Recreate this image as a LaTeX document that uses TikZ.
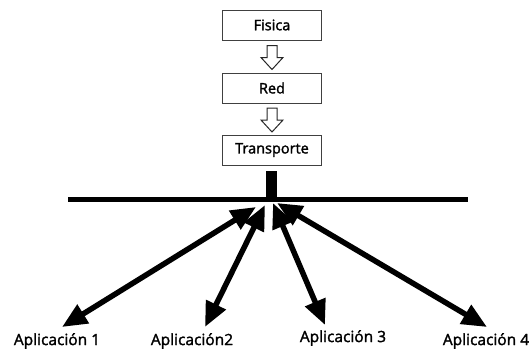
\documentclass[tikz,border=0pt]{standalone}
\usepackage{fontspec}
\setmainfont{Open Sans}
\newfontface\lblfont{Open Sans}[RawFeature={embolden=1.8}]
\usetikzlibrary{arrows.meta,positioning,calc}
\tikzset{layer/.style={draw=black!75,line width=1pt,minimum width=99pt,minimum height=30pt,inner sep=0pt,font=\lblfont\fontsize{14.5}{16}\selectfont},
  hollow/.style={draw=black!85,line width=1pt,fill=white,line join=miter},
  bus/.style={line width=5pt},
  link/.style={{Triangle[length=25pt,width=21pt]}-{Triangle[length=25pt,width=21pt]},line width=5.5pt},
  app/.style={font=\lblfont\fontsize{15.5}{17}\selectfont,inner sep=0pt}}

\begin{document}
\begin{tikzpicture}[x=1pt,y=-1pt]
\useasboundingbox (0,0) rectangle (530,348);
% pila de capas
\node[layer] (fis) at (272,25) {Fisica};
\node[layer] (red) at (272,88) {Red};
\node[layer] (tra) at (272,150) {Transporte};
\coordinate (m1) at ($(fis.south)!.5!(red.north)$);
\coordinate (m2) at ($(red.south)!.5!(tra.north)$);
\foreach \m in {m1,m2}{
  \draw[hollow] ($(\m)+(-5,-11)$) -- ++(10,0) -- ++(0,12) -- ++(6,0)
    -- ++(-11,12) -- ++(-11,-12) -- ++(6,0) -- cycle;
}
% bus
\node[fill=black,minimum width=11pt,minimum height=26pt,inner sep=0pt] (port) at (271,184) {};
\coordinate (busL) at (68,199.5);
\coordinate (busR) at (468,199.5);
\draw[bus] (busL) -- (busR);
% aplicaciones
\node[app] (a1) at (57,341) {Aplicación 1};
\node[app] (a2) at (192,341) {Aplicación2};
\node[app] (a3) at (343,338) {Aplicación 3};
\node[app] (a4) at (486,341) {Aplicación 4};
\coordinate (h1) at (256,207);
\coordinate (h2) at (265,205);
\coordinate (h3) at (273,203);
\coordinate (h4) at (277,203);
\coordinate (t1) at (62,327);
\coordinate (t2) at (205,327);
\coordinate (t3) at (325,325);
\coordinate (t4) at (487,327);
\foreach \i in {1,...,4}{
  \draw[link] (h\i) -- (t\i);
}
\end{tikzpicture}
\end{document}
